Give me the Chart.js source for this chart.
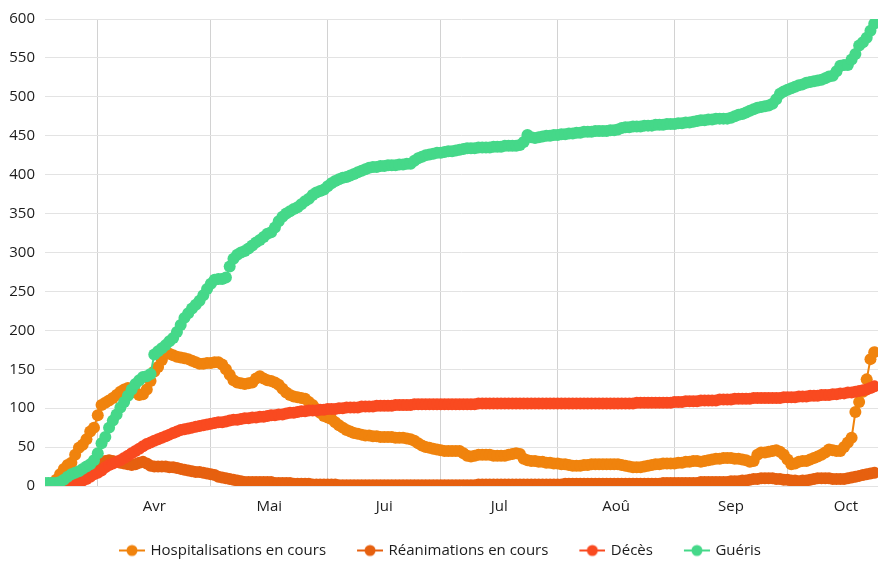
<!DOCTYPE html>
<html lang="fr">
<head>
<meta charset="utf-8">
<title>Hospitalisations</title>
<script src="https://cdn.jsdelivr.net/npm/chart.js@4.4.1/dist/chart.umd.min.js"></script>
<style>
  html, body { margin: 0; padding: 0; background: #fff; }
  canvas { display: block; }
</style>
</head>
<body>
<canvas id="chart" width="878" height="568"></canvas>
<script>
"use strict";

// Premier jour de la série (index 0), un point par jour
const startDate = "2020-03-18";

const monthLabels = ["Avr", "Mai", "Jui", "Jul", "Aoû", "Sep", "Oct"];
const monthStartDates = ["2020-04-01", "2020-05-01", "2020-06-01", "2020-07-01",
  "2020-08-01", "2020-09-01", "2020-10-01", "2020-11-01"];

const yTicks = [0, 50, 100, 150, 200, 250, 300, 350, 400, 450, 500, 550, 600];

const hospitalisations = [
  3, 3, 4, 8, 15, 22, 27, 30, 40, 49,
  53, 60, 70, 75, 91, 104, 107, 110, 113, 117,
  121, 124, 126, 125, 120, 117, 118, 124, 135, 147,
  153, 162, 170, 170, 168, 166, 165, 164, 163, 161,
  159, 157, 157, 158, 158, 159, 159, 156, 150, 143,
  136, 133, 132, 131, 132, 133, 138, 141, 138, 136,
  135, 133, 130, 125, 120, 117, 115, 114, 113, 112,
  108, 104, 99, 94, 90, 88, 86, 82, 78, 75,
  72, 70, 68, 67, 66, 65, 65, 64, 64, 63,
  63, 63, 63, 62, 62, 62, 61, 60, 58, 55,
  52, 50, 49, 48, 47, 46, 45, 45, 45, 45,
  45, 42, 39, 38, 39, 40, 40, 40, 40, 39,
  39, 39, 39, 40, 41, 42, 41, 35, 33, 32,
  32, 31, 31, 30, 30, 29, 29, 28, 28, 27,
  26, 26, 26, 27, 27, 28, 28, 28, 28, 28,
  28, 28, 28, 27, 26, 25, 24, 24, 24, 25,
  26, 27, 28, 28, 29, 29, 29, 29, 30, 30,
  31, 31, 32, 32, 31, 32, 33, 34, 35, 35,
  36, 36, 36, 35, 35, 34, 33, 31, 32, 40,
  43, 43, 44, 45, 46, 44, 40, 34, 28, 29,
  31, 32, 32, 34, 36, 38, 40, 43, 47, 46,
  45, 45, 50, 56, 62, 95, 108, 121, 137, 163,
  172,
];

const reanimations = [
  1, 1, 2, 3, 4, 6, 8, 10, 13, 16,
  19, 22, 25, 27, 29, 31, 32, 33, 32, 31,
  30, 29, 28, 27, 28, 30, 31, 29, 26, 25,
  25, 25, 25, 24, 24, 23, 22, 21, 20, 19,
  18, 18, 17, 16, 15, 14, 12, 11, 10, 9,
  8, 7, 6, 5, 5, 5, 5, 5, 5, 5,
  5, 4, 4, 4, 4, 4, 3, 3, 3, 3,
  3, 2, 2, 2, 2, 2, 2, 2, 1, 1,
  1, 1, 1, 1, 1, 1, 1, 1, 1, 1,
  1, 1, 1, 1, 1, 1, 1, 1, 1, 1,
  1, 1, 1, 1, 1, 1, 1, 1, 1, 1,
  1, 1, 1, 1, 1, 2, 2, 2, 2, 2,
  2, 2, 2, 2, 2, 2, 2, 2, 2, 2,
  2, 2, 2, 2, 2, 2, 2, 2, 3, 3,
  3, 3, 3, 3, 3, 3, 3, 3, 3, 3,
  3, 3, 3, 3, 3, 3, 3, 3, 3, 3,
  3, 3, 3, 3, 4, 4, 4, 4, 4, 4,
  4, 4, 4, 4, 5, 5, 5, 5, 5, 5,
  5, 5, 6, 6, 6, 7, 7, 8, 9, 9,
  10, 10, 10, 10, 9, 9, 8, 8, 7, 7,
  6, 7, 7, 8, 9, 10, 10, 10, 10, 9,
  9, 9, 9, 10, 11, 12, 13, 14, 15, 16,
  17,
];

const deces = [
  null, null, null, null, null, null, 0, 1, 3, 5,
  7, 9, 12, 15, 17, 20, 24, 27, 29, 31,
  33, 36, 39, 42, 45, 48, 51, 54, 56, 58,
  60, 62, 64, 66, 68, 70, 72, 73, 74, 75,
  76, 77, 78, 79, 80, 81, 82, 82, 83, 84,
  85, 85, 86, 87, 87, 88, 88, 89, 89, 90,
  91, 91, 92, 92, 93, 94, 94, 95, 96, 96,
  97, 97, 97, 98, 98, 99, 99, 99, 100, 100,
  101, 101, 101, 101, 102, 102, 102, 102, 103, 103,
  103, 103, 103, 104, 104, 104, 104, 104, 105, 105,
  105, 105, 105, 105, 105, 105, 105, 105, 105, 105,
  105, 105, 105, 105, 105, 106, 106, 106, 106, 106,
  106, 106, 106, 106, 106, 106, 106, 106, 106, 106,
  106, 106, 106, 106, 106, 106, 106, 106, 106, 106,
  106, 106, 106, 106, 106, 106, 106, 106, 106, 106,
  106, 106, 106, 106, 106, 106, 106, 107, 107, 107,
  107, 107, 107, 107, 107, 107, 107, 108, 108, 108,
  109, 109, 109, 109, 110, 110, 110, 110, 110, 111,
  111, 111, 111, 112, 112, 112, 112, 112, 113, 113,
  113, 113, 113, 113, 113, 113, 114, 114, 114, 114,
  115, 115, 115, 116, 116, 116, 117, 117, 117, 118,
  118, 119, 119, 120, 120, 121, 122, 123, 124, 126,
  128,
];

const gueris = [
  4, 4, 4, 4, 5, 8, 12, 15, 17, 19,
  22, 25, 28, 33, 42, 55, 63, 75, 84, 92,
  101, 108, 116, 124, 131, 136, 140, 141, 144, 169,
  173, 177, 181, 186, 190, 198, 207, 216, 222, 228,
  233, 238, 245, 253, 260, 265, 266, 266, 268, 282,
  292, 297, 300, 302, 305, 309, 313, 316, 320, 324,
  326, 332, 340, 346, 350, 353, 356, 358, 362, 366,
  369, 374, 377, 379, 381, 385, 389, 392, 394, 396,
  397, 399, 401, 403, 405, 407, 409, 410, 410, 411,
  411, 412, 412, 412, 413, 413, 414, 414, 418, 421,
  423, 425, 426, 427, 428, 428, 429, 430, 430, 431,
  432, 433, 434, 434, 434, 435, 435, 435, 435, 436,
  436, 436, 437, 437, 437, 437, 438, 442, 451, 448,
  447, 448, 449, 450, 450, 451, 451, 452, 452, 453,
  453, 454, 454, 455, 455, 455, 456, 456, 456, 456,
  457, 457, 458, 460, 461, 461, 462, 462, 462, 463,
  463, 463, 464, 464, 464, 465, 465, 465, 466, 466,
  467, 467, 468, 469, 470, 470, 471, 471, 472, 472,
  472, 472, 473, 475, 477, 478, 480, 482, 484, 486,
  487, 488, 489, 491, 497, 504, 507, 509, 511, 513,
  515, 516, 518, 519, 520, 521, 522, 524, 526, 527,
  533, 540, 541, 541, 548, 555, 566, 570, 576, 585,
  594,
];

const seriesLabels = ["Hospitalisations en cours", "Réanimations en cours", "Décès", "Guéris"];
const seriesColors = ["#f0830d", "#e6600f", "#f94a20", "#45d889"];

(function() {
  const DAY = 24 * 3600 * 1000;
  const t0 = Date.parse(startDate);
  const dayIndex = (d) => Math.round((Date.parse(d) - t0) / DAY);

  const monthStarts = monthStartDates.map(dayIndex);
  // libellé au milieu de chaque mois
  const labelDays = monthLabels.map((_, i) => (monthStarts[i] + monthStarts[i + 1]) / 2);
  const gridDays = monthStarts.slice(0, monthLabels.length);
  const lastDay = hospitalisations.length;

  const TEXT = "#1c1c1c";
  const FONT = "'Segoe UI', 'Open Sans', sans-serif";
  const SIZE = 15;

  /**
   * Marqueur de légende : trait + rond (4 px de marge à gauche).
   * @param {string} color
   * @return {HTMLCanvasElement}
   */
  function makeMarker(color) {
    const c = document.createElement("canvas");
    c.width = 30;
    c.height = 14;
    const g = c.getContext("2d");
    g.strokeStyle = color;
    g.lineWidth = 2;
    g.beginPath();
    g.moveTo(4, 7);
    g.lineTo(30, 7);
    g.stroke();
    g.fillStyle = color;
    g.beginPath();
    g.arc(17, 7, 5.5, 0, Math.PI * 2);
    g.fill();
    return c;
  }

  const allSeries = [hospitalisations, reanimations, deces, gueris];
  const markers = seriesColors.map(makeMarker);

  const datasets = allSeries.map((values, i) => ({
    label: seriesLabels[i],
    data: values.map((y, x) => ({x, y})),
    borderColor: seriesColors[i],
    backgroundColor: seriesColors[i],
    pointBackgroundColor: seriesColors[i],
    borderWidth: 2,
    pointRadius: 6,
    pointHoverRadius: 6,
    pointBorderWidth: 0,
    order: allSeries.length - i,
    clip: 0,
  }));

  new Chart(document.getElementById("chart"), {
    type: "line",
    data: {datasets},
    options: {
      responsive: false,
      animation: false,
      events: [],
      layout: {autoPadding: false, padding: {top: 17, right: 0, left: 0, bottom: 0}},
      plugins: {
        tooltip: {enabled: false},
        legend: {
          position: "bottom",
          labels: {
            usePointStyle: true,
            pointStyleWidth: 26,
            padding: 29,
            color: TEXT,
            font: {family: FONT, size: SIZE},
            generateLabels(chart) {
              const items = Chart.defaults.plugins.legend.labels.generateLabels(chart);
              items.forEach((it) => {
                it.pointStyle = markers[it.datasetIndex];
              });
              return items.sort((a, b) => a.datasetIndex - b.datasetIndex);
            },
          },
        },
      },
      scales: {
        x: {
          type: "linear",
          min: 0,
          max: lastDay,
          border: {display: false},
          afterBuildTicks: (scale) => {
            scale.ticks = gridDays.concat(labelDays).sort((a, b) => a - b).map((value) => ({value}));
          },
          afterFit: (scale) => {
            scale.height = 28;
            scale.paddingLeft = 0;
            scale.paddingRight = 0;
          },
          grid: {
            drawTicks: false,
            color: (ctx) => (ctx.tick && gridDays.includes(ctx.tick.value) ? "#d2d2d2" : "rgba(0,0,0,0)"),
          },
          ticks: {
            autoSkip: false,
            maxRotation: 0,
            padding: 12,
            color: TEXT,
            font: {family: FONT, size: SIZE},
            callback: (value) => {
              const k = labelDays.indexOf(value);
              return k >= 0 ? monthLabels[k] : "";
            },
          },
        },
        y: {
          min: yTicks[0],
          max: yTicks[yTicks.length - 1],
          border: {display: false},
          afterFit: (scale) => {
            scale.width = 45;
          },
          grid: {drawTicks: false, color: "#e3e3e3"},
          ticks: {
            stepSize: yTicks[1] - yTicks[0],
            padding: 10,
            color: TEXT,
            font: {family: FONT, size: SIZE},
          },
        },
      },
    },
  });
})();
</script>
</body>
</html>
